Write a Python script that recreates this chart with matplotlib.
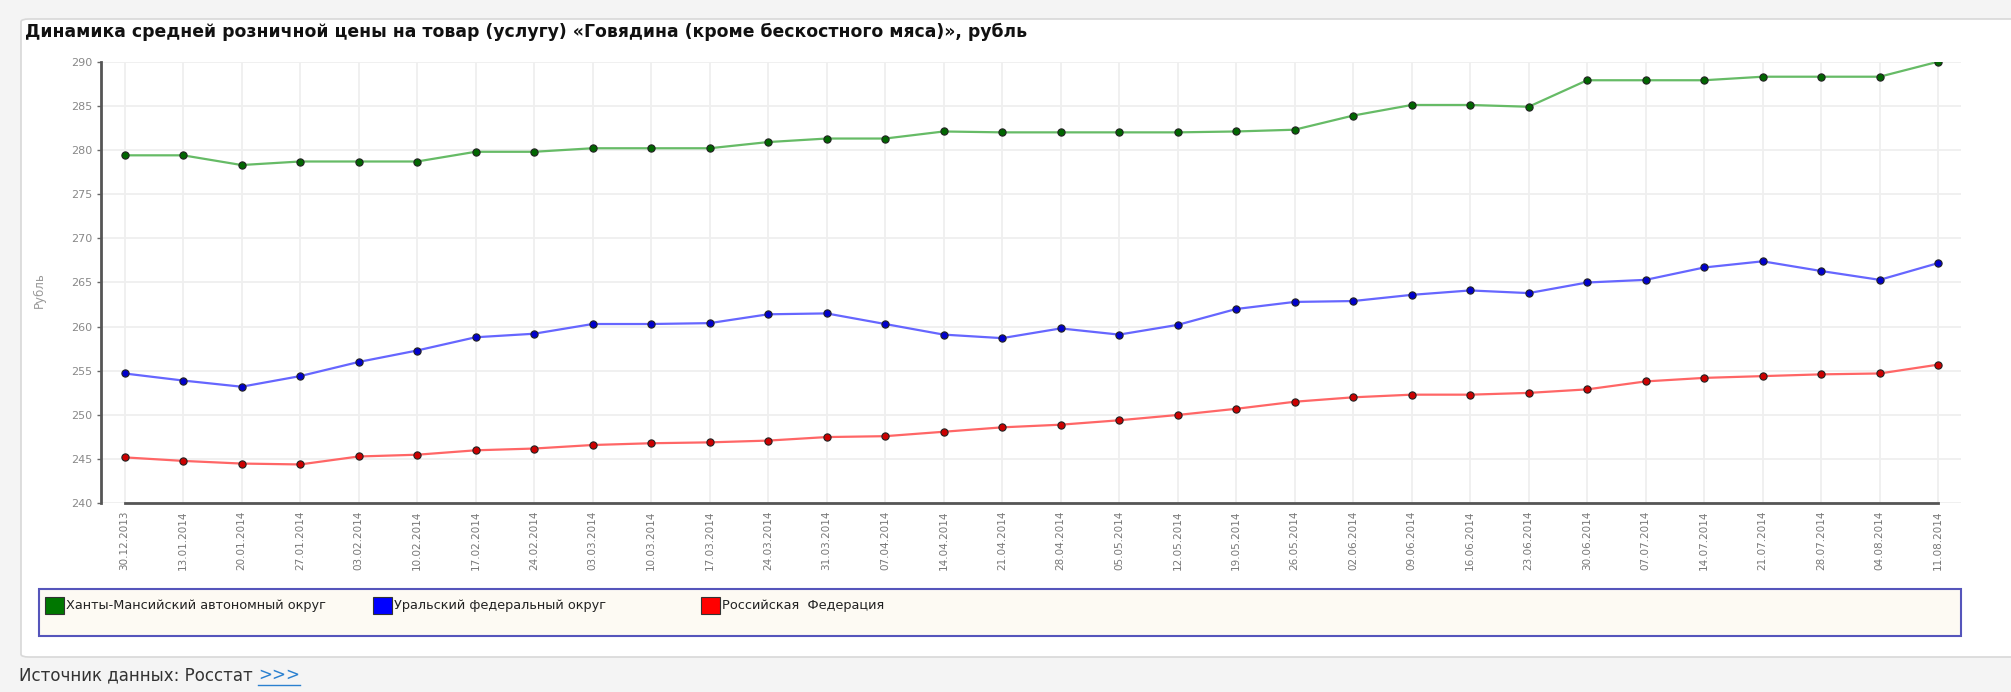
import numpy as np
import matplotlib.pyplot as plt
from matplotlib.patches import Rectangle, FancyBboxPatch

# ---- data ----
dates = ["30.12.2013", "13.01.2014", "20.01.2014", "27.01.2014", "03.02.2014", "10.02.2014",
         "17.02.2014", "24.02.2014", "03.03.2014", "10.03.2014", "17.03.2014", "24.03.2014",
         "31.03.2014", "07.04.2014", "14.04.2014", "21.04.2014", "28.04.2014", "05.05.2014",
         "12.05.2014", "19.05.2014", "26.05.2014", "02.06.2014", "09.06.2014", "16.06.2014",
         "23.06.2014", "30.06.2014", "07.07.2014", "14.07.2014", "21.07.2014", "28.07.2014",
         "04.08.2014", "11.08.2014"]

khmao = [279.4, 279.4, 278.3, 278.7, 278.7, 278.7, 279.8, 279.8, 280.2, 280.2, 280.2, 280.9,
         281.3, 281.3, 282.1, 282.0, 282.0, 282.0, 282.0, 282.1, 282.3, 283.9, 285.1, 285.1,
         284.9, 287.9, 287.9, 287.9, 288.3, 288.3, 288.3, 290.0]

ural = [254.7, 253.9, 253.2, 254.4, 256.0, 257.3, 258.8, 259.2, 260.3, 260.3, 260.4, 261.4,
        261.5, 260.3, 259.1, 258.7, 259.8, 259.1, 260.2, 262.0, 262.8, 262.9, 263.6, 264.1,
        263.8, 265.0, 265.3, 266.7, 267.4, 266.3, 265.3, 267.2]

russia = [245.2, 244.8, 244.5, 244.4, 245.3, 245.5, 246.0, 246.2, 246.6, 246.8, 246.9, 247.1,
          247.5, 247.6, 248.1, 248.6, 248.9, 249.4, 250.0, 250.7, 251.5, 252.0, 252.3, 252.3,
          252.5, 252.9, 253.8, 254.2, 254.4, 254.6, 254.7, 255.7]

series_names = ["Ханты-Мансийский автономный округ", "Уральский федеральный округ",
                "Российская  Федерация"]

title = "Динамика средней розничной цены на товар (услугу) «Говядина (кроме бескостного мяса)», рубль"

# line colour, marker colour, legend colour
styles = [("#66bb66", "#006600", "#007700"),
          ("#6666ff", "#0000cc", "#0000ff"),
          ("#ff6666", "#cc0000", "#ff0000")]

plt.rcParams['font.family'] = ['DejaVu Sans']

W, H = 2011, 692
fig = plt.figure(figsize=(W / 100, H / 100), dpi=100)
fig.patch.set_facecolor("#f4f4f4")


def fx(px):
    return px / W


def fy(py):
    return 1 - py / H


# white panel
panel = FancyBboxPatch((fx(21), fy(657)), fx(2011 + 20) - fx(21), fy(19) - fy(657),
                       boxstyle="round,pad=0,rounding_size=0.004", transform=fig.transFigure,
                       facecolor="white", edgecolor="#d8d8d8", linewidth=1.2, zorder=0)
fig.add_artist(panel)

ax = fig.add_axes([fx(101), fy(503.3), fx(1961) - fx(101), fy(61.7) - fy(503.3)])
ax.set_facecolor("white")

x = np.arange(len(dates))
for vals, (lc, mc, _) in zip([khmao, ural, russia], styles):
    ax.plot(x, vals, color=lc, linewidth=1.6, zorder=3)
    ax.plot(x, vals, linestyle="none", marker="o", markersize=5.2, markerfacecolor=mc,
            markeredgecolor="#222222", markeredgewidth=0.8, zorder=4)

ax.set_xlim(-0.403, 31.39)
ax.set_ylim(240, 290)
ax.set_yticks(np.arange(240, 291, 5))
ax.set_xticks(x)
ax.set_xticklabels(dates, rotation=90, fontsize=7.5, color="#777777", va="top", ha="center")
ax.tick_params(axis="x", length=0, pad=5)
ax.tick_params(axis="y", length=3, width=1, color="#666666", labelsize=8, labelcolor="#888888", pad=3)

ax.grid(True, color="#efefef", linewidth=1.3, zorder=0)
ax.set_axisbelow(True)

for s in ["top", "right"]:
    ax.spines[s].set_visible(False)
ax.spines["left"].set_color("#555555")
ax.spines["left"].set_linewidth(2)
ax.spines["bottom"].set_color("#555555")
ax.spines["bottom"].set_linewidth(2)
ax.spines["bottom"].set_bounds(0, len(dates) - 1)

fig.text(fx(39), fy(290), "Рубль", rotation=90, fontsize=8.5, color="#999999", ha="center", va="center")

# title
fig.text(fx(25), fy(32), title, fontsize=12.4, fontweight="bold", color="#111111", ha="left", va="center")

# legend box
fig.add_artist(Rectangle((fx(39), fy(636)), fx(1961) - fx(39), fy(589) - fy(636), transform=fig.transFigure,
                         facecolor="#fdfaf3", edgecolor="#5555bb", linewidth=1.5, zorder=1))
for i, (name, (_, _, c)) in enumerate(zip(series_names, styles)):
    x0 = 45 + i * 328
    fig.add_artist(Rectangle((fx(x0), fy(614)), fx(19), fy(597) - fy(614), transform=fig.transFigure,
                             facecolor=c, edgecolor="#333333", linewidth=0.8, zorder=2))
    fig.text(fx(x0 + 21), fy(606), name, fontsize=9.3, color="#222222", ha="left", va="center")

# source
src = fig.text(fx(19), fy(675), "Источник данных: Росстат ", fontsize=12, color="#333333",
               ha="left", va="center")
fig.canvas.draw()
bb = src.get_window_extent()
lnk = fig.text(bb.x1 / W, fy(675), ">>>", fontsize=12, color="#2a80d0", ha="left", va="center")
lb = lnk.get_window_extent()
fig.add_artist(plt.Line2D([lb.x0 / W, lb.x1 / W], [fy(685), fy(685)], transform=fig.transFigure,
                          color="#2a80d0", linewidth=1))

fig.savefig("out.png", dpi=100, facecolor=fig.get_facecolor())
